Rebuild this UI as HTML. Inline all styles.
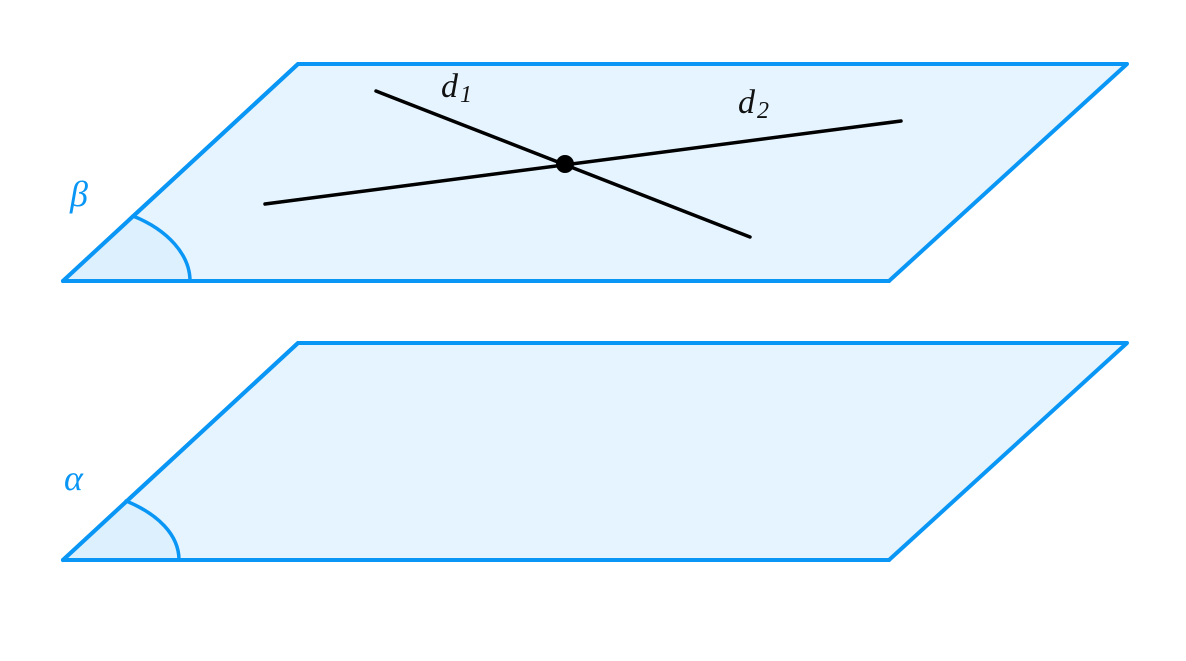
<!DOCTYPE html>
<html><head><meta charset="utf-8"><style>
html,body{margin:0;padding:0;background:#fff;}
svg{display:block;}
text{font-family:"Liberation Serif",serif;font-style:italic;}
</style></head><body>
<svg width="1186" height="661" viewBox="0 0 1186 661" xmlns="http://www.w3.org/2000/svg">
<g stroke="#0a96f5" stroke-width="4" stroke-linejoin="round" stroke-linecap="round">
<polygon points="63,281 298,64 1127,64 889,281" fill="#e5f4fe"/>
<path d="M63,281 L133,216 C168,230 190,255 190,281 Z" fill="#dcf0fd" stroke="none"/>
<path d="M133,216 C168,230 190,255 190,281" fill="none" stroke-width="3.5"/>
<line x1="63" y1="281" x2="298" y2="64"/>
<line x1="63" y1="281" x2="889" y2="281"/>
<polygon points="63,560 298,343 1127,343 889,560" fill="#e5f4fe"/>
<path d="M63,560 L126,501 C158,514 179,535 179,560 Z" fill="#dcf0fd" stroke="none"/>
<path d="M126,501 C158,514 179,535 179,560" fill="none" stroke-width="3.5"/>
<line x1="63" y1="560" x2="298" y2="343"/>
<line x1="63" y1="560" x2="889" y2="560"/>
</g>
<g stroke="#000" stroke-width="3.5" stroke-linecap="round">
<line x1="376" y1="91" x2="750" y2="237"/>
<line x1="265" y1="204" x2="901" y2="121"/>
</g>
<circle cx="565" cy="164" r="9" fill="#000"/>
<text x="441" y="97" font-size="34" fill="#111">d</text><text x="460" y="102" font-size="24" font-style="normal" fill="#111">1</text>
<text x="738" y="113" font-size="34" fill="#111">d</text><text x="757" y="118" font-size="24" font-style="normal" fill="#111">2</text>
<text x="70" y="206" font-size="36" font-style="normal" fill="#0a96f5">β</text>
<text x="64" y="490" font-size="36" font-style="normal" fill="#0a96f5">α</text>
</svg>
</body></html>
